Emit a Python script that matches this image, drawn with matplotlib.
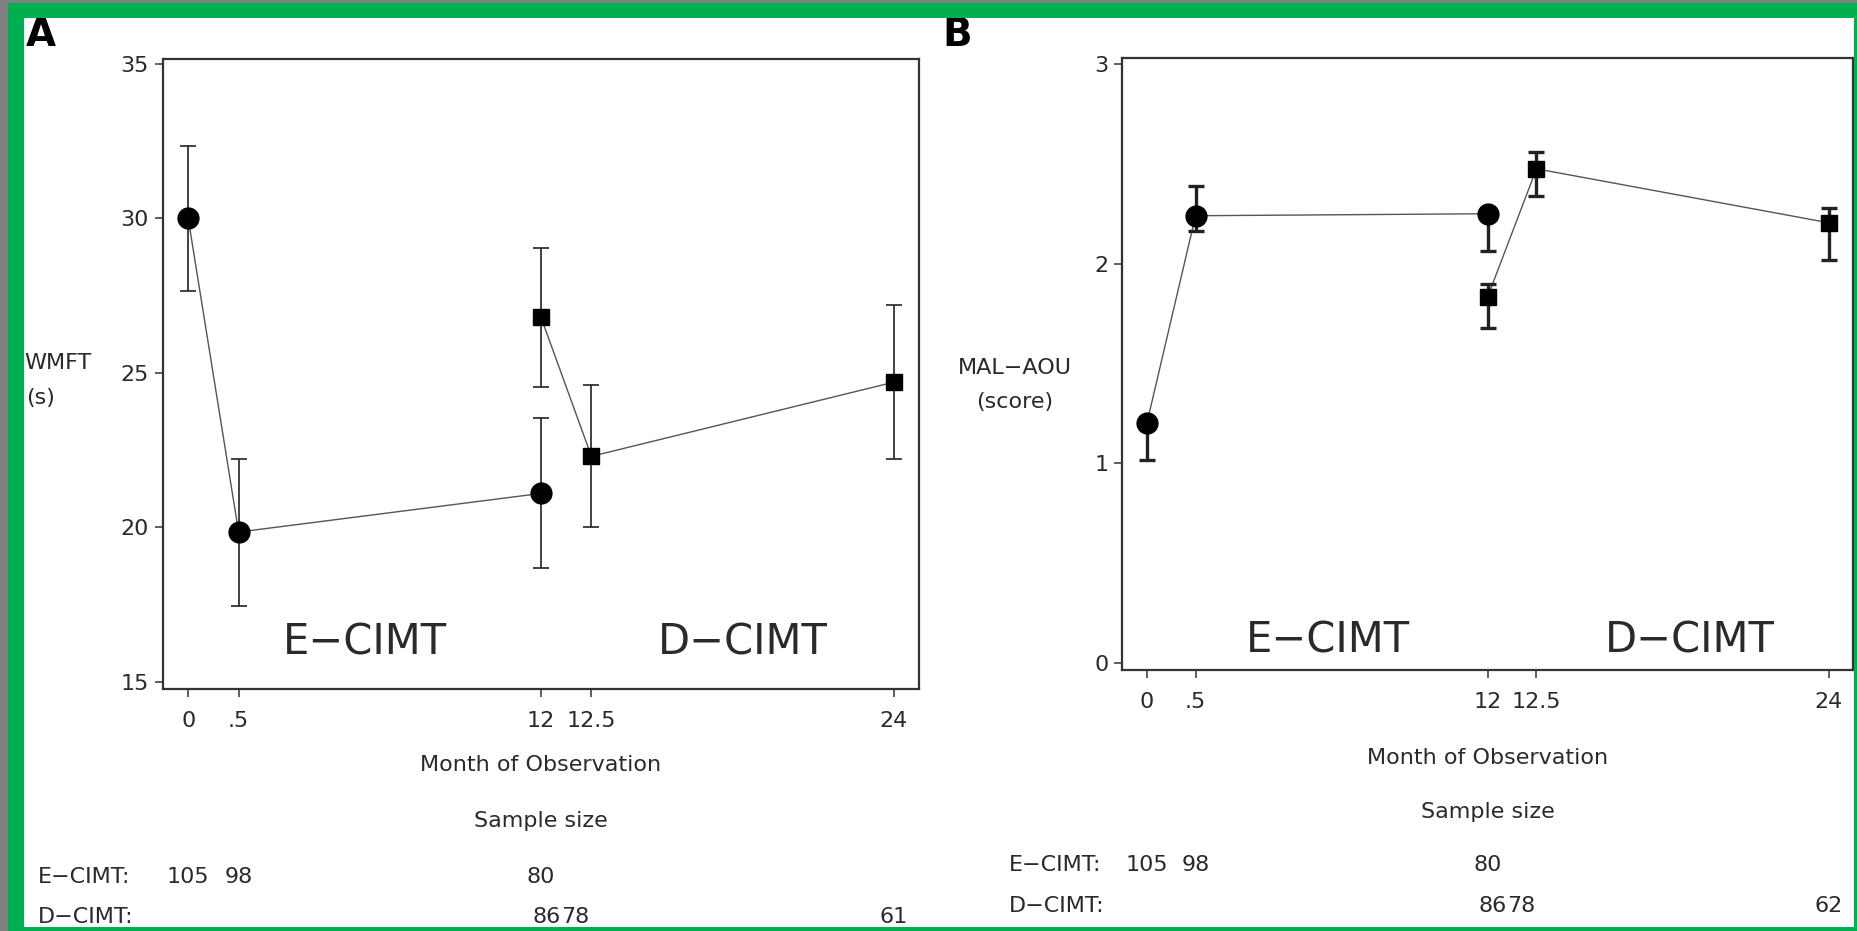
import matplotlib.pyplot as plt
import matplotlib.transforms as mtransforms
from matplotlib.patches import Rectangle

# Months observed and where each sits on the (non-linear) x axis
month_labels = ['0', '.5', '12', '12.5', '24']
month_pos = {0: 0, 0.5: 1, 12: 7, 12.5: 8, 24: 14}

# Panel A: WMFT (s)
e_months = [0, 0.5, 12]
e_wmft = [30.0, 19.85, 21.1]
e_wmft_err = [2.36, 2.38, 2.43]
d_months = [12, 12.5, 24]
d_wmft = [26.8, 22.3, 24.7]
d_wmft_err = [2.25, 2.3, 2.5]

# Panel B: MAL-AOU (score), asymmetric bars (lower, upper)
e_mal = [1.2, 2.24, 2.25]
e_mal_lo = [0.185, 0.075, 0.185]
e_mal_hi = [0.0, 0.15, 0.0]
d_mal = [1.835, 2.475, 2.205]
d_mal_lo = [0.155, 0.135, 0.185]
d_mal_hi = [0.065, 0.085, 0.075]

# Sample sizes
e_n = ['105', '98', '80']
d_n = ['86', '78', '61']
d_n_b = ['86', '78', '62']

W, H = 1858, 931
TXT = '#2a2a2a'


def fx(px):
    return px / W


def fy(py):
    return 1 - py / H


def draw_panel(ax, e_y, e_err, d_y, d_err, ylim, yticks, thick):
    ex = [month_pos[m] for m in e_months]
    dx = [month_pos[m] for m in d_months]
    ax.plot(ex, e_y, '-', color='#555555', lw=1.0, zorder=2)
    ax.plot(dx, d_y, '-', color='#555555', lw=1.0, zorder=2)
    elw = 2.4 if thick else 1.2
    ax.errorbar(ex, e_y, yerr=e_err, fmt='o', color='black', ms=15,
                elinewidth=elw, capsize=6 if thick else 5.5, capthick=elw,
                ecolor='#222222', zorder=3)
    ax.errorbar(dx, d_y, yerr=d_err, fmt='s', color='black', ms=12,
                elinewidth=elw, capsize=6 if thick else 5.5, capthick=elw,
                ecolor='#222222', zorder=3)
    ax.set_xlim(-0.5, 14.5)
    ax.set_ylim(*ylim)
    ax.set_xticks(list(month_pos.values()))
    ax.set_xticklabels(month_labels)
    ax.set_yticks(yticks)
    ax.tick_params(axis='both', labelsize=16, labelcolor=TXT, color='#444444',
                   length=6, width=1.2)
    ax.tick_params(axis='x', pad=10)
    ax.tick_params(axis='y', pad=4)
    for s in ax.spines.values():
        s.set_color('#333333')
        s.set_linewidth(1.6)


def main() -> None:
    fig = plt.figure(figsize=(W / 100, H / 100), dpi=100)
    fig.patch.set_facecolor('white')

    ax_a = fig.add_axes([fx(163), fy(689), fx(919 - 163), (689 - 59) / H])
    ax_b = fig.add_axes([fx(1122.5), fy(670), fx(1853 - 1122.5), (670 - 58) / H])

    draw_panel(ax_a, e_wmft, e_wmft_err, d_wmft, d_wmft_err,
               (14.77, 35.16), [15, 20, 25, 30, 35], thick=False)
    draw_panel(ax_b, e_mal, [e_mal_lo, e_mal_hi], d_mal, [d_mal_lo, d_mal_hi],
               (-0.035, 3.03), [0, 1, 2, 3], thick=True)

    big = dict(fontsize=30, color=TXT, ha='center', va='center')
    ax_a.text(3.5, 16.26, 'E\u2212CIMT', **big)
    ax_a.text(11.0, 16.26, 'D\u2212CIMT', **big)
    ax_b.text(3.72, 0.115, 'E\u2212CIMT', **big)
    ax_b.text(11.15, 0.115, 'D\u2212CIMT', **big)

    # Panel letters
    fig.text(fx(41), fy(35), 'A', fontsize=28, fontweight='bold',
             ha='center', va='center')
    fig.text(fx(957), fy(35), 'B', fontsize=28, fontweight='bold',
             ha='center', va='center')

    sm = dict(fontsize=16, color=TXT, va='center')
    fig.text(fx(24), fy(363), 'WMFT', ha='left', **sm)
    fig.text(fx(26), fy(398), '(s)', ha='left', **sm)
    fig.text(fx(1015), fy(368), 'MAL\u2212AOU', ha='center', **sm)
    fig.text(fx(1015), fy(402), '(score)', ha='center', **sm)

    for ax, ys, left, ndr in [(ax_a, (765, 821, 877, 917), 38, d_n),
                              (ax_b, (758, 812, 865, 906), 1009, d_n_b)]:
        tr = mtransforms.blended_transform_factory(ax.transData, fig.transFigure)
        ax.text(7.0, fy(ys[0]), 'Month of Observation', transform=tr,
                ha='center', **sm)
        ax.text(7.0, fy(ys[1]), 'Sample size', transform=tr, ha='center', **sm)
        fig.text(fx(left), fy(ys[2]), 'E\u2212CIMT:', ha='left', **sm)
        fig.text(fx(left), fy(ys[3]), 'D\u2212CIMT:', ha='left', **sm)
        ex = [month_pos[m] for m in e_months]
        dx = [month_pos[m] for m in d_months]
        for x, n in zip(ex, e_n):
            ax.text(x, fy(ys[2]), n, transform=tr, ha='center', **sm)
        # the two close values at 12 and 12.5 are packed side by side
        ax.text((dx[0] + dx[1]) / 2 - 0.1, fy(ys[3]), ndr[0], transform=tr,
                ha='right', **sm)
        ax.text((dx[0] + dx[1]) / 2 - 0.1, fy(ys[3]), ndr[1], transform=tr,
                ha='left', **sm)
        ax.text(dx[2], fy(ys[3]), ndr[2], transform=tr, ha='center', **sm)

    # Frame: gray outer strip and green border
    gray, green = '#808080', '#00b050'
    for (x0, y0, w, h, c) in [
            (0, 0, 8, H, gray), (0, 0, W, 3, gray),
            (8, 3, 16, H - 3, green), (8, 3, W - 8, 15, green),
            (W - 4, 3, 4, H - 3, green), (8, H - 4, W - 8, 4, green)]:
        fig.patches.append(Rectangle((fx(x0), fy(y0 + h)), w / W, h / H,
                                     transform=fig.transFigure, color=c,
                                     lw=0, zorder=10))

    fig.savefig('out.png', dpi=100)


if __name__ == '__main__':
    main()
